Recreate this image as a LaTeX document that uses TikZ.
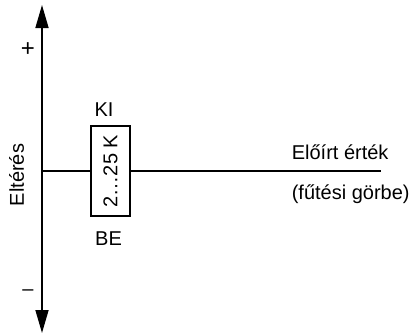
\documentclass[tikz,border=0pt]{standalone}
\usepackage{fontspec}
\setmainfont{Liberation Sans}
\usetikzlibrary{arrows.meta}
\begin{document}
\begin{tikzpicture}[x=1pt,y=-1pt,line width=1.6pt,font=\fontsize{20}{24}\selectfont,
  tip/.style={Triangle[length=23pt,width=13pt]}]
\useasboundingbox(0,0)rectangle(415,335);
\coordinate(top)at(42,5);
\coordinate(bot)at(42,333);
\coordinate(end)at(381,171);
\draw[{Triangle[length=23pt,width=13pt]}-{Triangle[length=23pt,width=13pt]}](bot)--(top);
\node[draw,rotate=90,minimum width=90pt,minimum height=39pt,inner sep=0pt](valve)at(110.5,171){2…25 K};
\draw(top|-valve.center)--(valve.north)(valve.south)--(end);
\node(ki)at(104,110){KI};
\node(be)at(108.5,239){BE};
\node[font=\fontsize{24}{24}\selectfont](plus)at(28,50){+};
\node(minus)at(28,293){–};
\node[rotate=90](elt)at(16.5,175){Eltérés};
\node[anchor=base west,inner sep=0pt](set)at(291,159){Előírt érték};
\node[anchor=base west,inner sep=0pt](curve)at(291,199){(fűtési görbe)};
\end{tikzpicture}
\end{document}
